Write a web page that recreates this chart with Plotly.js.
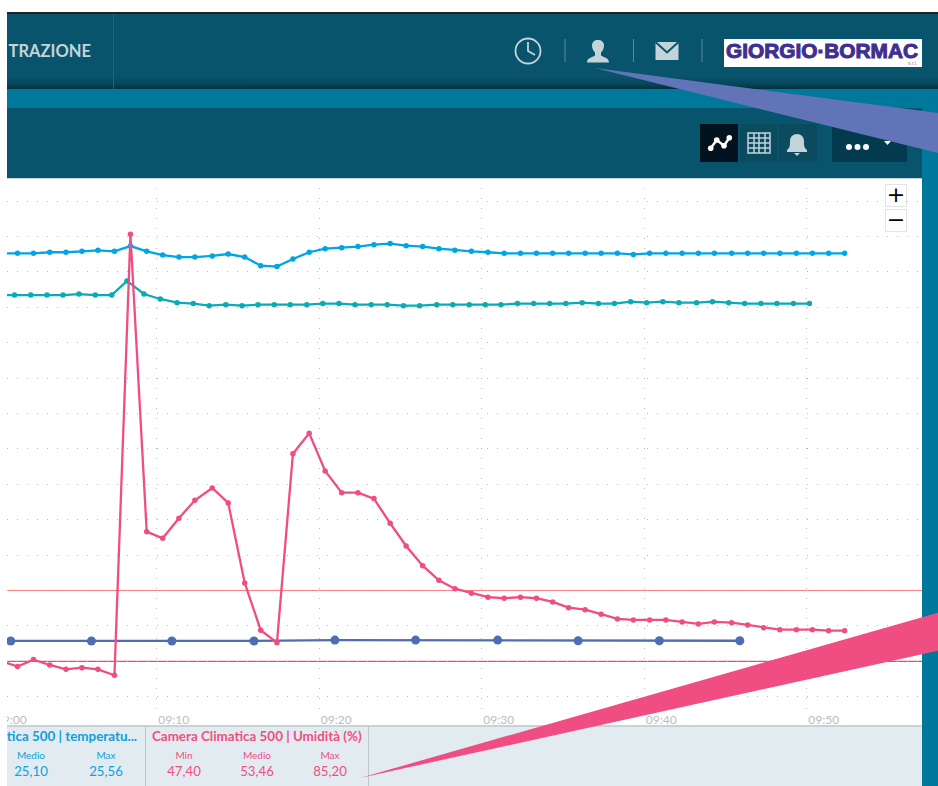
<!DOCTYPE html>
<html><head><meta charset="utf-8">
<script src="https://cdn.plot.ly/plotly-3.0.1.min.js"></script>
<style>
html,body{margin:0;padding:0;background:#fff;width:938px;height:786px;overflow:hidden;font-family:Lato,sans-serif}
.abs{position:absolute}
.bar{left:7px;top:14px;width:931px;height:75px;background:linear-gradient(to bottom,#08546c 0,#08546c 82%,#06475d 93%,#032f3e 100%)}
.lbl{position:absolute;text-align:center;width:70px;font-size:10px;line-height:12px}
.val{position:absolute;text-align:center;width:70px;font-size:13.2px;line-height:16px}
.btn{position:absolute;top:124px;height:38px}
.zoomb{position:absolute;left:885px;width:20px;height:21px;background:#fff;border:1px solid #e3e6e8;color:#000;text-align:center}
</style></head><body>
<div class="abs" style="left:7px;top:12px;width:931px;height:2px;background:#1e2226"></div>
<div class="abs bar"></div>
<div class="abs" style="left:7px;top:89px;width:931px;height:19px;background:#00789c"></div>
<div class="abs" style="left:922px;top:108px;width:16px;height:678px;background:#00789c"></div>
<div class="abs" style="left:7px;top:108px;width:915px;height:70px;background:#08546c"></div>
<div class="abs" style="left:113px;top:14px;width:1px;height:75px;background:#0e6a86"></div>
<div class="abs" style="left:7px;top:14px;width:100px;height:75px;overflow:hidden">
 <div class="abs" style="right:16px;top:27px;white-space:nowrap;font-size:16.5px;font-weight:700;color:#c3d4d9;line-height:20px">TRAZIONE</div>
</div>

<svg class="abs" style="left:500px;top:14px" width="440" height="75">
 <circle cx="28" cy="37" r="12.5" fill="none" stroke="#c3d4d9" stroke-width="1.8"/>
 <path d="M28 28V37L35 41" fill="none" stroke="#c3d4d9" stroke-width="1.8"/>
 <rect x="64.5" y="25" width="1" height="23" fill="#5f8c9c"/><rect x="133" y="25" width="1" height="23" fill="#5f8c9c"/><rect x="201.5" y="25" width="1" height="23" fill="#5f8c9c"/>
 <path d="M87 48.500c0-4.500 5-5 8-7v-3c-2-2-3-4.500-3-7 0-3.500 2.500-5.500 6-5.500s6 2 6 5.500c0 2.500-1 5-3 7v3c3 2 8 2.500 8 7z" fill="#c3d4d9"/>
 <rect x="155.500" y="28" width="23" height="18" fill="#c3d4d9"/><path d="M155.500 28L167 38.500L178.500 28" fill="none" stroke="#08546c" stroke-width="2"/>
</svg>
<svg class="abs" style="left:724px;top:39px" width="198" height="28">
 <rect width="198" height="28" fill="#fff"/>
 <text x="2" y="19" font-family="Liberation Sans" font-weight="700" font-size="20" fill="#3f2f90" stroke="#3f2f90" stroke-width="1" textLength="192" lengthAdjust="spacingAndGlyphs">GIORGIO·BORMAC</text>
 <text x="184" y="26" font-family="Liberation Sans" font-size="5" fill="#8878b8">s.r.l.</text>
</svg>

<div class="btn" style="left:700px;width:38px;background:#03121f"></div>
<div class="btn" style="left:740px;width:37px;background:#0a4b60"></div>
<div class="btn" style="left:779px;width:38px;background:#0a4b60"></div>
<div class="btn" style="left:832px;width:75px;background:#043a4d"></div>
<svg class="abs" style="left:700px;top:124px" width="210" height="38">
 <path d="M10.700 24.300L16.700 16L24 21.700L29.300 13.700" fill="none" stroke="#fff" stroke-width="2.500"/>
 <circle cx="10.700" cy="24.300" r="2.800" fill="#fff"/><circle cx="16.700" cy="16" r="2.800" fill="#fff"/><circle cx="24" cy="21.700" r="2.800" fill="#fff"/><circle cx="29.300" cy="13.700" r="2.800" fill="#fff"/>
 <g fill="none" stroke="#c3d4d9" stroke-width="1.500"><rect x="48" y="9" width="22" height="20"/><path d="M48 14H70M48 19H70M48 24H70M54 9V29M59 9V29M65 9V29"/></g>
 <path d="M87 26c3-2 3-5 3-9 0-4 3-7 7-7s7 3 7 7c0 4 0 7 3 9v2H87z" fill="#c3d4d9"/><path d="M94 29h6l-3 3z" fill="#c3d4d9"/>
 <circle cx="149" cy="23" r="3" fill="#fff"/><circle cx="157.500" cy="23" r="3" fill="#fff"/><circle cx="166" cy="23" r="3" fill="#fff"/>
 <path d="M184 17h7l-3.500 4z" fill="#fff"/>
</svg>

<div class="abs" style="left:7px;top:178px;width:915px;height:560px;overflow:hidden;border-top:1px solid #c6d2d6;box-sizing:border-box">
 <div id="chart" class="abs" style="left:-60px;top:-1px;width:975px;height:560px"></div>
</div>
<div class="zoomb" style="top:184px;font-size:22px;line-height:20px;font-family:'DejaVu Sans'">+</div>
<div class="zoomb" style="top:209px;font-size:22px;line-height:20px;font-family:'DejaVu Sans'">−</div>

<div class="abs" style="left:7px;top:725px;width:915px;height:61px;background:#e1ebf0;border-top:2px solid #c9d2d6;box-sizing:border-box"></div>
<div class="abs" style="left:145px;top:726px;width:1px;height:60px;background:#bcc6cb"></div>
<div class="abs" style="left:368px;top:726px;width:1px;height:60px;background:#bcc6cb"></div>
<div class="abs" style="left:7px;top:725px;width:138px;height:61px;overflow:hidden">
 <div class="abs" style="right:8px;top:2px;white-space:nowrap;font-size:13.4px;font-weight:700;line-height:18px;color:#0f9fdc">Camera Climatica 500 | temperatu...</div>
</div>
<div class="abs" style="left:152px;top:727px;white-space:nowrap;font-size:13.4px;font-weight:700;line-height:18px;color:#f0507f">Camera Climatica 500 | Umidità (%)</div>
<div id="stats"></div>

<svg class="abs" style="left:0;top:0;pointer-events:none" width="938" height="786">
 <polygon points="595,68 938,113 938,153" fill="#6274b8"/>
 <polygon points="360,778 938,612.700 938,650.700" fill="#f04d82"/>
</svg>

<script>
const day = '2024-01-01 ';
const timesMain = ['09:00:25','09:01:26','09:02:25','09:03:25','09:04:25','09:05:24','09:06:23','09:07:24','09:08:23','09:09:23','09:10:22','09:11:22','09:12:21','09:13:25','09:14:24','09:15:25','09:16:24','09:17:24','09:18:23','09:19:23','09:20:22','09:21:23','09:22:23','09:23:22','09:24:22','09:25:21','09:26:22','09:27:22','09:28:21','09:29:22','09:30:23','09:31:23','09:32:23','09:33:22','09:34:22','09:35:21','09:36:22','09:37:21','09:38:21','09:39:20','09:40:20','09:41:20','09:42:20','09:43:20','09:44:19','09:45:23','09:46:22','09:47:21','09:48:21','09:49:22','09:50:21','09:51:21','09:52:20'];
const tempBlue = [25.05,25.05,25.05,25.11,25.11,25.16,25.22,25.16,25.46,25.16,24.95,24.84,24.84,24.90,25.01,24.84,24.35,24.30,24.73,25.11,25.31,25.37,25.43,25.54,25.60,25.48,25.43,25.31,25.22,25.16,25.11,25.05,25.05,25.05,25.05,25.05,25.05,25.05,25.05,24.99,25.05,25.05,25.05,25.05,25.05,25.05,25.05,25.05,25.05,25.05,25.05,25.05,25.05];
const humidity = [48.63,48.14,48.74,48.28,47.91,48.05,47.91,47.40,85.20,59.71,59.14,60.86,62.40,63.45,62.17,55.31,51.26,50.19,66.39,68.14,64.91,63.05,63.05,62.54,60.43,58.48,56.79,55.54,54.82,54.43,54.09,54.00,54.09,54.00,53.68,53.19,53.02,52.63,52.23,52.14,52.14,52.14,51.97,51.80,51.97,51.91,51.71,51.48,51.31,51.31,51.31,51.22,51.22];
const timesTeal = ['09:00:14','09:01:15','09:02:15','09:03:15','09:04:14','09:05:13','09:06:13','09:07:14','09:08:10','09:09:13','09:10:13','09:11:15','09:12:15','09:13:14','09:14:15','09:15:15','09:16:14','09:17:14','09:18:13','09:19:14','09:20:13','09:21:13','09:22:12','09:23:12','09:24:11','09:25:11','09:26:11','09:27:14','09:28:13','09:29:14','09:30:13','09:31:11','09:32:12','09:33:12','09:34:11','09:35:11','09:36:11','09:37:11','09:38:10','09:39:10','09:40:09','09:41:09','09:42:08','09:43:13','09:44:12','09:45:12','09:46:11','09:47:11','09:48:10','09:49:11','09:50:10'];
const tempTeal = [22.69,22.69,22.69,22.69,22.69,22.75,22.69,22.69,23.49,22.75,22.47,22.26,22.21,22.09,22.15,22.09,22.15,22.15,22.15,22.15,22.21,22.21,22.15,22.15,22.15,22.09,22.09,22.15,22.15,22.15,22.15,22.15,22.21,22.21,22.21,22.21,22.26,22.21,22.21,22.32,22.26,22.32,22.26,22.26,22.32,22.26,22.21,22.21,22.21,22.21,22.21];
const timesNavy = ['09:01:01','09:05:59','09:10:56','09:15:59','09:20:58','09:25:56','09:30:59','09:35:56','09:40:56','09:45:53'];
const tempNavy = [3.15,3.15,3.15,3.15,3.20,3.20,3.20,3.16,3.16,3.16];
const limits = [6, 2];
const limitColors = ['#fb8080','#e4505c'];
const statsBlue = [['Medio','25,10',31],['Max','25,56',106]];
const statsPink = [['Min','47,40',184],['Medio','53,46',257],['Max','85,20',330]];

function tr(times, vals, color, size, width, axis){
  return {x: times.map(t => day + t), y: vals, yaxis: axis, type: 'scatter', mode: 'lines+markers',
    line: {color: color, width: width}, marker: {color: color, size: size}, hoverinfo: 'skip'};
}
const data = [
  tr(timesTeal, tempTeal, '#0aabb5', 5.5, 2.3, 'y'),
  tr(timesMain, tempBlue, '#00a5e3', 5.5, 2.3, 'y'),
  tr(timesNavy, tempNavy, '#4f6cb6', 9, 2.3, 'y'),
  tr(timesMain, humidity, '#f04d82', 5.5, 2.3, 'y2')
];
const layout = {
  width: 975, height: 560,
  margin: {l: 0, r: 0, t: 0, b: 26, pad: 0},
  paper_bgcolor: 'rgba(0,0,0,0)', plot_bgcolor: '#fff', showlegend: false,
  xaxis: {type: 'date', range: [day + '08:57:05.7', day + '09:57:05.7'], dtick: 600000, tick0: day + '09:00:00',
    tickformat: '%H:%M', ticks: '', showline: false, zeroline: false,
    showgrid: true, gridcolor: '#b4b8ba', griddash: '1px,9px', gridwidth: 1,
    tickfont: {family: 'Lato', size: 12, color: '#b9bdbf'}, ticklabelshift: 17, ticklabelstandoff: -1},
  yaxis: {range: [-0.864, 29.305], dtick: 2, tick0: 0, showticklabels: false, ticks: '', showline: false, zeroline: false,
    showgrid: true, gridcolor: '#b4b8ba', griddash: '1px,9px', gridwidth: 1},
  yaxis2: {range: [44.25, 90.02], overlaying: 'y', side: 'right', showticklabels: false, ticks: '', showline: false, zeroline: false, showgrid: false},
  shapes: limits.map((v, i) => ({type: 'line', xref: 'paper', x0: 0, x1: 1, yref: 'y', y0: v, y1: v, layer: 'below',
    line: {color: limitColors[i], width: 1.2}}))
};
Plotly.newPlot('chart', data, layout, {displayModeBar: false, staticPlot: true});

const st = document.getElementById('stats');
function addStats(list, color){
  list.forEach(s => {
    st.insertAdjacentHTML('beforeend',
      `<div class="lbl" style="left:${s[2]-35}px;top:749px;color:${color}">${s[0]}</div>` +
      `<div class="val" style="left:${s[2]-35}px;top:763px;color:${color}">${s[1]}</div>`);
  });
}
addStats(statsBlue, '#0f9fdc');
addStats(statsPink, '#f0507f');
</script>
</body></html>
